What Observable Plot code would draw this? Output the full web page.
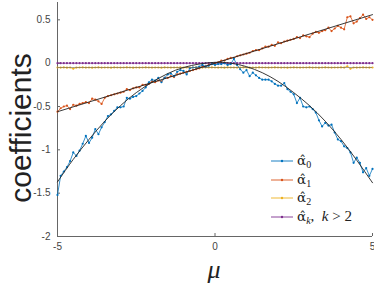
<!DOCTYPE html>
<html><head><meta charset="utf-8">
<script src="https://cdn.jsdelivr.net/npm/d3@7"></script>
<script src="https://cdn.jsdelivr.net/npm/@observablehq/plot@0.6"></script>
<style>
html,body{margin:0;padding:0;background:#fff;}
#wrap{position:relative;width:374px;height:286px;overflow:hidden;}
#ylab{position:absolute;left:21px;top:128px;transform:translate(-50%,-50%) rotate(-90deg);font:30px "Liberation Sans",Arial,sans-serif;color:#222;white-space:nowrap;}
#xlab{position:absolute;left:214px;top:257px;font:italic 26px/1 "Liberation Serif","DejaVu Serif",serif;color:#222;transform:translateX(-50%);}
#legend{position:absolute;left:270px;top:152px;font:15px "Liberation Serif","DejaVu Serif",serif;color:#222;}
.row{display:flex;align-items:center;height:18.5px;}
.row svg{margin-right:3px;}
.al{font-family:"DejaVu Serif",serif;font-size:13.5px;}
sub{font-size:10px;vertical-align:-3px;}
</style>
</head><body>
<div id="wrap"></div>
<script>
// sample grid index -> mu = -5 + 0.1*i
const muStart = -5, muStep = 0.1;
const alpha0 = [-1.52,-1.30,-1.25,-1.20,-1.13,-1.03,-1.07,-1.01,-0.93,-0.84,
  -0.92,-0.86,-0.76,-0.82,-0.74,-0.68,-0.61,-0.59,-0.55,-0.51,
  -0.51,-0.50,-0.40,-0.41,-0.39,-0.38,-0.35,-0.32,-0.28,-0.22,
  -0.19,-0.20,-0.17,-0.22,-0.17,-0.13,-0.12,-0.15,-0.10,-0.08,
  -0.09,-0.13,-0.06,-0.05,-0.05,-0.04,-0.02,-0.04,-0.03,-0.01,
  -0.02,-0.01,-0.01,0.00,-0.02,-0.01,0.05,-0.02,-0.07,-0.11,
  -0.08,-0.15,-0.11,-0.14,-0.17,-0.19,-0.19,-0.19,-0.21,-0.24,
  -0.26,-0.26,-0.23,-0.30,-0.33,-0.36,-0.46,-0.40,-0.50,-0.51,
  -0.50,-0.53,-0.57,-0.66,-0.73,-0.69,-0.72,-0.71,-0.80,-0.88,
  -0.90,-0.96,-0.98,-1.03,-1.15,-1.09,-1.15,-1.26,-1.21,-1.30,-1.22];
const alpha1 = [-0.56,-0.52,-0.50,-0.49,-0.53,-0.48,-0.49,-0.47,-0.46,-0.45,
  -0.46,-0.41,-0.42,-0.44,-0.47,-0.40,-0.38,-0.37,-0.36,-0.35,
  -0.34,-0.33,-0.30,-0.31,-0.29,-0.28,-0.28,-0.25,-0.25,-0.24,
  -0.21,-0.22,-0.20,-0.21,-0.17,-0.17,-0.15,-0.16,-0.13,-0.12,
  -0.11,-0.10,-0.09,-0.08,-0.07,-0.06,-0.04,-0.04,-0.02,-0.01,
  0.00,0.01,0.03,0.03,0.05,0.06,0.06,0.08,0.09,0.10,
  0.11,0.12,0.14,0.15,0.15,0.17,0.19,0.19,0.21,0.20,
  0.24,0.23,0.25,0.26,0.27,0.28,0.30,0.29,0.32,0.31,
  0.30,0.34,0.36,0.35,0.37,0.38,0.41,0.37,0.40,0.43,
  0.41,0.39,0.53,0.54,0.46,0.48,0.52,0.56,0.51,0.53,0.50];
const alpha2 = [-0.050,-0.051,-0.049,-0.052,-0.050,-0.064,-0.051,-0.050,-0.049,-0.051,
  -0.050,-0.052,-0.050,-0.049,-0.051,-0.050,-0.050,-0.052,-0.049,-0.050,
  -0.051,-0.050,-0.049,-0.050,-0.052,-0.050,-0.051,-0.050,-0.049,-0.050,
  -0.051,-0.050,-0.050,-0.052,-0.049,-0.050,-0.051,-0.050,-0.050,-0.049,
  -0.051,-0.050,-0.052,-0.050,-0.049,-0.050,-0.051,-0.050,-0.050,-0.049,
  -0.050,-0.051,-0.050,-0.052,-0.049,-0.050,-0.050,-0.051,-0.050,-0.049,
  -0.050,-0.052,-0.050,-0.051,-0.049,-0.050,-0.050,-0.051,-0.050,-0.049,
  -0.050,-0.051,-0.050,-0.052,-0.050,-0.049,-0.050,-0.051,-0.050,-0.050,
  -0.049,-0.051,-0.050,-0.052,-0.050,-0.049,-0.050,-0.051,-0.050,-0.050,
  -0.049,-0.051,-0.036,-0.064,-0.050,-0.051,-0.050,-0.049,-0.050,-0.051,-0.050];
const alphaK = [0,0,0,0,0,0,0,0,0,0, 0,0,0,0,0,0,0,0,0,0, 0,0,0,0,0,0,0,0,0,0,
  0,0,0,0,0,0,0,0,0,0, 0,0,0,0,0,0,0,0,0,0, 0,0,0,0,0,0,0,0,0,0,
  0,0,0,0,0,0,0,0,0,0, 0,0,0,0,0,0,0,0,0,0, 0,0,0,0,0,0,0,0,0,0,
  0,0,0,0,0,0,0,0,0,0,0];
// fitted curves
const fit0Mu = [-5,-4.5,-4,-3.5,-3,-2.5,-2,-1.5,-1,-0.5,0,0.5,1,1.5,2,2.5,3,3.5,4,4.5,5];
const fit0 = [-1.37,-1.11,-0.88,-0.67,-0.49,-0.34,-0.22,-0.12,-0.05,-0.01,0.01,0.00,-0.04,-0.11,-0.21,-0.34,-0.49,-0.67,-0.88,-1.12,-1.38];
const fit1Mu = [-5,5];
const fit1 = [-0.56,0.56];
const fit2 = -0.05;
const xTicks = [-5,0,5];
const yTicks = [-2,-1.5,-1,-0.5,0,0.5];
const colors = ["#0072BD","#D95319","#EDB120","#7E2F8E"];

const series = [alpha0, alpha1, alpha2, alphaK];
const rows = [];
series.forEach((arr, s) => arr.forEach((v, i) => rows.push({s, mu: muStart + muStep * i, v})));
const fitRows0 = fit0Mu.map((m, i) => ({mu: m, v: fit0[i]}));
const fitRows1 = fit1Mu.map((m, i) => ({mu: m, v: fit1[i]}));
const fmt = d => String(d);

const chart = Plot.plot({
  width: 374, height: 286,
  marginLeft: 57, marginRight: 2, marginTop: 2, marginBottom: 50,
  x: {domain: [-5, 5]},
  y: {domain: [-2, 0.7]},
  style: {fontFamily: "'Liberation Sans', Arial, sans-serif", fontSize: "10px", background: "transparent", color: "#444"},
  marks: [
    Plot.axisX(xTicks, {tickSize: -3, tickPadding: 9, stroke: "#666", fill: "#444", label: null, tickFormat: fmt}),
    Plot.axisY(yTicks, {tickSize: -3, tickPadding: 10, stroke: "#666", fill: "#444", label: null, tickFormat: fmt}),
    Plot.ruleX([-5], {stroke: "#666"}),
    Plot.ruleY([-2], {stroke: "#666"}),
    ...[3,2,1,0].map(s => Plot.line(rows.filter(r => r.s === s), {x: "mu", y: "v", stroke: colors[s], strokeWidth: 0.8})),
    ...[3,2,1,0].map(s => Plot.dot(rows.filter(r => r.s === s), {x: "mu", y: "v", fill: colors[s], r: 1.1, stroke: null})),
    Plot.ruleY([fit2], {stroke: "#666", strokeWidth: 0.7, strokeOpacity: 0.8}),
    Plot.line(fitRows1, {x: "mu", y: "v", stroke: "#222", strokeWidth: 0.9}),
    Plot.line(fitRows0, {x: "mu", y: "v", stroke: "#222", strokeWidth: 0.9, curve: "natural"})
  ]
});
const wrap = document.getElementById("wrap");
wrap.appendChild(chart);

const ylab = document.createElement("div"); ylab.id = "ylab"; ylab.textContent = "coefficients"; wrap.appendChild(ylab);
const xlab = document.createElement("div"); xlab.id = "xlab"; xlab.textContent = "μ"; wrap.appendChild(xlab);

const hat = `<span class="al">α̂</span>`;
const legendLabels = [`${hat}<sub>0</sub>`, `${hat}<sub>1</sub>`, `${hat}<sub>2</sub>`, `${hat}<sub><i>k</i></sub>,&nbsp; <i>k</i> &gt; 2`];
const leg = document.createElement("div"); leg.id = "legend";
legendLabels.forEach((lab, i) => {
  const row = document.createElement("div"); row.className = "row";
  row.innerHTML = `<svg width="24" height="6"><line x1="1" y1="3" x2="23" y2="3" stroke="${colors[i]}" stroke-width="0.9"/><circle cx="12" cy="3" r="1.2" fill="${colors[i]}"/></svg><span>${lab}</span>`;
  leg.appendChild(row);
});
wrap.appendChild(leg);
</script>
</body></html>
